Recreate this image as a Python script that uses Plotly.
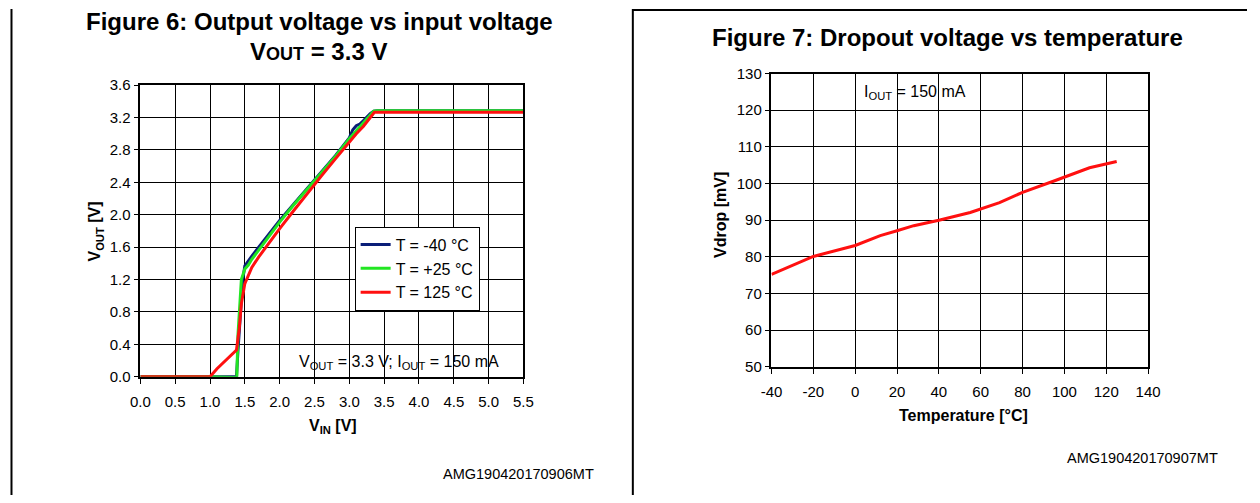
import plotly.graph_objects as go

# ---------- Figure 6 data ----------
vin_m40 = [0, 1.0, 1.38, 1.40, 1.44, 1.47, 1.50, 1.55, 1.6, 1.8, 2.0, 2.2, 2.4, 2.6, 2.8, 3.0, 3.05, 3.1, 3.15, 3.2, 3.3, 3.35, 3.4, 4.0, 5.0, 5.5]
vout_m40 = [0, 0, 0, 0.3, 0.9, 1.2, 1.37, 1.43, 1.49, 1.71, 1.93, 2.13, 2.33, 2.53, 2.73, 2.95, 3.05, 3.10, 3.12, 3.16, 3.25, 3.28, 3.285, 3.285, 3.285, 3.285]

vin_25 = [0, 1.0, 1.37, 1.385, 1.40, 1.45, 1.50, 1.55, 1.6, 1.8, 2.0, 2.2, 2.4, 2.6, 2.8, 3.0, 3.1, 3.2, 3.3, 3.35, 3.4, 5.5]
vout_25 = [0, 0, -0.01, 0, 0.5, 1.2, 1.33, 1.38, 1.45, 1.68, 1.91, 2.12, 2.32, 2.52, 2.72, 2.94, 3.04, 3.14, 3.24, 3.28, 3.285, 3.285]

vin_125 = [0, 0.98, 1.0, 1.1, 1.2, 1.3, 1.38, 1.42, 1.45, 1.5, 1.55, 1.6, 1.7, 1.8, 2.0, 2.2, 2.4, 2.6, 2.8, 3.0, 3.1, 3.2, 3.3, 3.36, 3.4, 5.5]
vout_125 = [0, 0, 0.0, 0.1, 0.18, 0.27, 0.33, 0.6, 0.9, 1.15, 1.25, 1.35, 1.48, 1.6, 1.83, 2.05, 2.27, 2.48, 2.69, 2.9, 3.0, 3.09, 3.2, 3.265, 3.265, 3.265]

# ---------- Figure 7 data ----------
temp_c = [-40, -32, -20, 0, 12, 20, 28, 40, 55, 69, 80, 96, 112, 125]
vdrop_mv = [75.2, 77.2, 80.1, 83.1, 85.8, 87.1, 88.5, 90.0, 92.1, 94.8, 97.6, 100.9, 104.3, 106.0]

# tick labels
vin_ticks = [0, 0.5, 1.0, 1.5, 2.0, 2.5, 3.0, 3.5, 4.0, 4.5, 5.0, 5.5]
vin_ticktext = ["0.0", "0.5", "1.0", "1.5", "2.0", "2.5", "3.0", "3.5", "4.0", "4.5", "5.0", "5.5"]
vout_ticks = [0, 0.4, 0.8, 1.2, 1.6, 2.0, 2.4, 2.8, 3.2, 3.6]
vout_ticktext = ["0.0", "0.4", "0.8", "1.2", "1.6", "2.0", "2.4", "2.8", "3.2", "3.6"]
temp_ticks = [-40, -20, 0, 20, 40, 60, 80, 100, 120, 140]
temp_ticktext = ["-40", "-20", "0", "20", "40", "60", "80", "100", "120", "140"]
vdrop_ticks = [50, 60, 70, 80, 90, 100, 110, 120, 130]
vdrop_ticktext = ["50", "60", "70", "80", "90", "100", "110", "120", "130"]

legend_names = ["T = -40 °C", "T = +25 °C", "T = 125 °C"]
colors = ["#0a1e78", "#22e622", "#ff1010"]

W, H = 1260, 503
FONT = "Arial, Liberation Sans, sans-serif"

# the photographed picture shows the page slightly shrunk about its centre;
# convert target picture pixels into page fractions accordingly
SX, OXP = 0.982, 10.0
SY, OYP = 0.970, 7.5

def px(x):
    return ((x - OXP) / SX) / W

def py(y):
    return 1 - ((y - OYP) / SY) / H

fig = go.Figure()
for xs, ys, name, c in [(vin_m40, vout_m40, legend_names[0], colors[0]),
                        (vin_25, vout_25, legend_names[1], colors[1]),
                        (vin_125, vout_125, legend_names[2], colors[2])]:
    fig.add_trace(go.Scatter(x=xs, y=ys, mode="lines", name=name,
                             line=dict(color=c, width=3), xaxis="x", yaxis="y"))

fig.add_trace(go.Scatter(x=temp_c, y=vdrop_mv, mode="lines", showlegend=False,
                         line=dict(color="#ff1010", width=3), xaxis="x2", yaxis="y2"))

axis_common = dict(showline=True, mirror=True, linecolor="black", linewidth=1.5,
                   showgrid=True, gridcolor="black", gridwidth=1.2,
                   ticks="outside", ticklen=5, tickcolor="black", tickwidth=1,
                   zeroline=False, tickfont=dict(family=FONT, size=15, color="black"))

fig.update_layout(
    width=W, height=H,
    margin=dict(l=0, r=0, t=0, b=0),
    paper_bgcolor="white", plot_bgcolor="white",
    font=dict(family=FONT, color="black"),
    xaxis=dict(domain=[px(139.5), px(523)], range=[0, 5.5], ticklabelstandoff=5,
               tickvals=vin_ticks, ticktext=vin_ticktext, anchor="y", **axis_common),
    yaxis=dict(domain=[py(376.7), py(84)], range=[0, 3.6],
               tickvals=vout_ticks, ticktext=vout_ticktext, anchor="x", **axis_common),
    xaxis2=dict(domain=[px(771.3), px(1148.3)], range=[-40, 140], ticklabelstandoff=5,
                tickvals=temp_ticks, ticktext=temp_ticktext, anchor="y2", **axis_common),
    yaxis2=dict(domain=[py(366.7), py(72.3)], range=[50, 130],
                tickvals=vdrop_ticks, ticktext=vdrop_ticktext, anchor="x2", **axis_common),
    legend=dict(x=px(354), y=py(226), xanchor="left", yanchor="top",
                bordercolor="black", borderwidth=1, bgcolor="white",
                font=dict(family=FONT, size=16, color="black"),
                itemwidth=30, tracegroupgap=0),
)

def ann(text, x, y, size=14, angle=0, xanchor="center", yanchor="middle"):
    fig.add_annotation(text=text, x=px(x), y=py(y), xref="paper", yref="paper",
                       showarrow=False, textangle=angle, xanchor=xanchor, yanchor=yanchor,
                       font=dict(family=FONT, size=size, color="black"))

ann("<b>Figure 6: Output voltage vs input voltage</b>", 318.5, 20, size=24)
ann("<b>V<span style='font-size:18px'>OUT</span> = 3.3 V</b>", 318, 50, size=24)
ann("<b>Figure 7: Dropout voltage vs temperature</b>", 948, 36, size=24)

ann("<b>V<sub>OUT</sub> [V]</b>", 95, 231, size=16, angle=-90)
ann("<b>V<sub>IN</sub> [V]</b>", 332, 427, size=16)
ann("<b>Vdrop [mV]</b>", 720, 214, size=16, angle=-90)
ann("<b>Temperature [°C]</b>", 964, 416, size=16)

ann("V<sub>OUT</sub> = 3.3 V; I<sub>OUT</sub> = 150 mA", 398, 362, size=16)
ann("I<sub>OUT</sub> = 150 mA", 915, 91, size=16)

ann("AMG190420170906MT", 518, 474, size=14.5)
ann("AMG190420170907MT", 1143, 458, size=14.5)

# panel borders (page edge limits the outer ones)
for x0, y0, x1, y1 in [(0.5, 0, 0.5, 503), (632.5, 0, 632.5, 503), (632, 1, 1260, 1)]:
    fig.add_shape(type="line", xref="paper", yref="paper",
                  x0=x0 / W if x0 in (0.5,) else px(x0),
                  y0=0 if y0 == 503 or y1 == 503 and y0 == 0 and False else (1 - y0 / H if y0 in (0, 1) else py(y0)),
                  x1=x1 / W if x1 in (0.5, 1260) else px(x1),
                  y1=(1 - y1 / H) if y1 in (1,) else (0 if y1 == 503 else py(y1)),
                  line=dict(color="black", width=2))

fig.write_html("out.html", config={"displayModeBar": False},
               post_script="document.body.style.margin='0';document.body.style.overflow='hidden';")
